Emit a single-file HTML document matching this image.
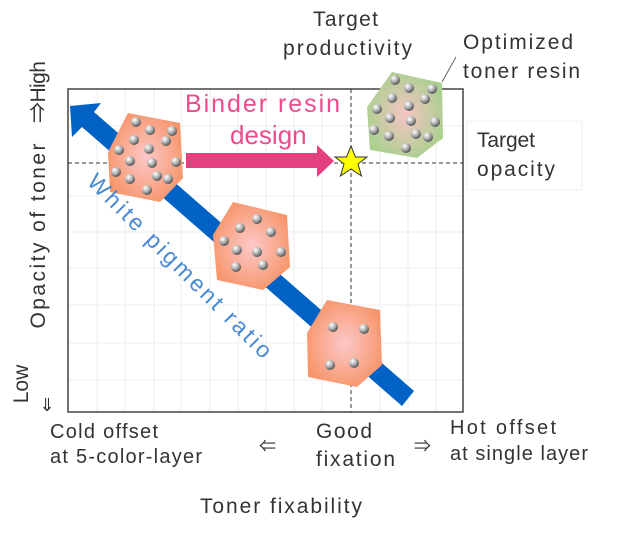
<!DOCTYPE html>
<html><head><meta charset="utf-8"><style>
html,body{margin:0;padding:0;background:#fff}
svg{display:block}
text{font-family:"Liberation Sans","Noto Sans CJK JP",sans-serif;fill:#333}
</style></head><body>
<svg width="642" height="535" viewBox="0 0 642 535" xmlns="http://www.w3.org/2000/svg">
<defs>
<radialGradient id="og" cx="50%" cy="50%" r="55%"><stop offset="0" stop-color="#fcc8c8"/><stop offset="1" stop-color="#f7956a"/></radialGradient>
<radialGradient id="gg" cx="50%" cy="50%" r="55%"><stop offset="0" stop-color="#f6c4c4"/><stop offset="1" stop-color="#a9d08e"/></radialGradient>
<radialGradient id="bg" cx="35%" cy="30%" r="70%"><stop offset="0" stop-color="#fff"/><stop offset="0.5" stop-color="#b8b8b8"/><stop offset="1" stop-color="#555"/></radialGradient>
</defs>
<g stroke="#eee" stroke-width="1">
<line x1="97" y1="89" x2="97" y2="412"/><line x1="125" y1="89" x2="125" y2="412"/><line x1="154" y1="89" x2="154" y2="412"/><line x1="181" y1="89" x2="181" y2="412"/><line x1="210" y1="89" x2="210" y2="412"/><line x1="238" y1="89" x2="238" y2="412"/><line x1="266" y1="89" x2="266" y2="412"/><line x1="294" y1="89" x2="294" y2="412"/><line x1="322" y1="89" x2="322" y2="412"/><line x1="380" y1="89" x2="380" y2="412"/><line x1="408" y1="89" x2="408" y2="412"/><line x1="436" y1="89" x2="436" y2="412"/>
<line x1="68" y1="126" x2="463" y2="126"/><line x1="68" y1="196" x2="463" y2="196"/><line x1="68" y1="232" x2="463" y2="232"/><line x1="68" y1="268" x2="463" y2="268"/><line x1="68" y1="305" x2="463" y2="305"/><line x1="68" y1="343" x2="463" y2="343"/><line x1="68" y1="380" x2="463" y2="380"/>
</g>
<rect x="68" y="89" width="395" height="323" fill="none" stroke="#444" stroke-width="1.5"/>
<line x1="68" y1="163" x2="463" y2="163" stroke="#333" stroke-dasharray="4,3"/>
<line x1="351" y1="89" x2="351" y2="412" stroke="#333" stroke-dasharray="4,3"/>
<polygon points="70,106 101,103 94,112 414,391 402,406 82,127 72,137" fill="#0062c4"/>
<polygon points="128,113 180,123 183,178 160,202 110,192 108,152" fill="url(#og)"/>
<polygon points="233,202 287,215 290,267 263,290 217,280 213,235" fill="url(#og)"/>
<polygon points="327,300 380,310 382,365 357,387 308,377 307,333" fill="url(#og)"/>
<polygon points="392,72 442,83 443,138 417,158 370,150 367,107" fill="url(#gg)"/>
<line x1="442" y1="82" x2="456" y2="57" stroke="#666"/>
<g fill="url(#bg)">
<circle cx="136" cy="122" r="5"/><circle cx="150" cy="130" r="5"/><circle cx="172" cy="131" r="5"/><circle cx="134" cy="140" r="5"/><circle cx="166" cy="141" r="5"/><circle cx="119" cy="150" r="5"/><circle cx="149" cy="149" r="5"/><circle cx="130" cy="161" r="5"/><circle cx="152" cy="163" r="5"/><circle cx="176" cy="162" r="5"/><circle cx="116" cy="172" r="5"/><circle cx="130" cy="179" r="5"/><circle cx="157" cy="176" r="5"/><circle cx="168" cy="179" r="5"/><circle cx="147" cy="190" r="5"/>
<circle cx="257" cy="219" r="5"/><circle cx="240" cy="228" r="5"/><circle cx="271" cy="232" r="5"/><circle cx="224" cy="241" r="5"/><circle cx="237" cy="250" r="5"/><circle cx="257" cy="252" r="5"/><circle cx="281" cy="252" r="5"/><circle cx="236" cy="267" r="5"/><circle cx="263" cy="265" r="5"/>
<circle cx="333" cy="327" r="5"/><circle cx="364" cy="329" r="5"/><circle cx="330" cy="365" r="5"/><circle cx="354" cy="363" r="5"/>
<circle cx="395" cy="80" r="5"/><circle cx="409" cy="88" r="5"/><circle cx="432" cy="89" r="5"/><circle cx="392" cy="98" r="5"/><circle cx="425" cy="99" r="5"/><circle cx="377" cy="109" r="5"/><circle cx="409" cy="106" r="5"/><circle cx="390" cy="118" r="5"/><circle cx="411" cy="121" r="5"/><circle cx="435" cy="122" r="5"/><circle cx="374" cy="130" r="5"/><circle cx="389" cy="136" r="5"/><circle cx="416" cy="134" r="5"/><circle cx="428" cy="137" r="5"/><circle cx="406" cy="148" r="5"/>
</g>
<polygon points="186,153 317,153 317,145 334,161 317,177 317,168 186,168" fill="#e4407f"/>
<polygon points="351,146 355.5,157 367,157 358,164 361.5,176 351,169 340.5,176 344,164 335,157 346.5,157" fill="#ffff00" stroke="#333" stroke-width="1"/>
<text x="185" y="112" font-size="25" textLength="155" lengthAdjust="spacing" style="fill:#ea4c8c">Binder resin</text>
<text x="230" y="144" font-size="26" style="fill:#ea4c8c">design</text>
<text x="0" y="0" font-size="23" textLength="250" lengthAdjust="spacing" style="fill:#4a8ad4" transform="translate(86,183) rotate(45)">White pigment ratio</text>
<text x="313" y="26" font-size="21" textLength="65" lengthAdjust="spacing">Target</text>
<text x="283" y="55" font-size="21" textLength="129" lengthAdjust="spacing">productivity</text>
<text x="463" y="49" font-size="21" textLength="110" lengthAdjust="spacing">Optimized</text>
<text x="463" y="78" font-size="21" textLength="117" lengthAdjust="spacing">toner resin</text>
<rect x="467" y="121" width="115" height="69" fill="#fff" stroke="#f0f0f0"/>
<text x="477" y="147" font-size="21" textLength="58" lengthAdjust="spacing">Target</text>
<text x="477" y="176" font-size="21" textLength="78" lengthAdjust="spacing">opacity</text>
<text font-size="21" text-anchor="middle" textLength="185" lengthAdjust="spacing" transform="translate(45,236) rotate(-90)">Opacity of toner</text>
<text font-size="21" text-anchor="middle" textLength="62" lengthAdjust="spacing" transform="translate(45,92) rotate(-90)">⇒High</text>
<text font-size="21" text-anchor="middle" transform="translate(28,384) rotate(-90)">Low</text>
<text x="47" y="411" font-size="18" text-anchor="middle">⇓</text>
<text x="50" y="438" font-size="20" textLength="108" lengthAdjust="spacing">Cold offset</text>
<text x="50" y="463" font-size="20" textLength="152" lengthAdjust="spacing">at 5-color-layer</text>
<text x="259" y="452" font-size="17">⇐</text>
<text x="316" y="438" font-size="21" textLength="56" lengthAdjust="spacing">Good</text>
<text x="316" y="466" font-size="21" textLength="79" lengthAdjust="spacing">fixation</text>
<text x="414" y="452" font-size="17">⇒</text>
<text x="450" y="434" font-size="20" textLength="106" lengthAdjust="spacing">Hot offset</text>
<text x="450" y="460" font-size="20" textLength="138" lengthAdjust="spacing">at single layer</text>
<text x="200" y="513" font-size="21" textLength="162" lengthAdjust="spacing">Toner fixability</text>
</svg>
</body></html>
